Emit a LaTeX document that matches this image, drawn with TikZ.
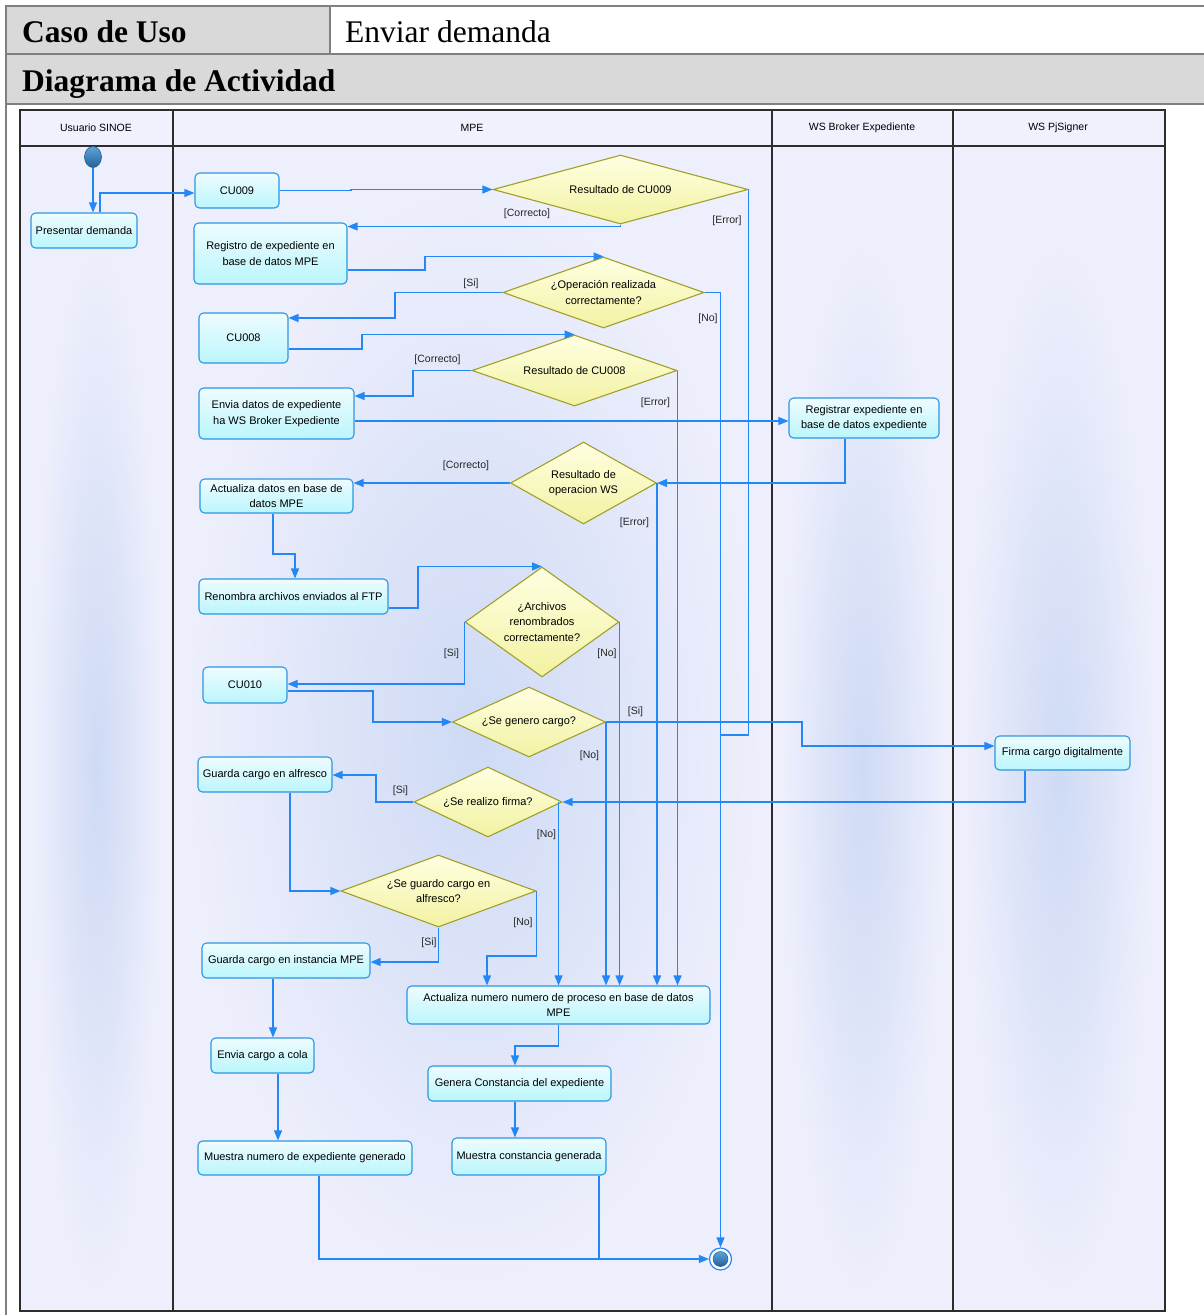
\documentclass[tikz,border=0pt]{standalone}
\usepackage{fontspec}
\setmainfont{Liberation Serif}
\newfontfamily\diagsans{Liberation Sans}
\usetikzlibrary{shapes.geometric,arrows.meta}

% palette
\definecolor{hdrgray}{RGB}{217,217,217}
\definecolor{hdrline}{RGB}{128,128,128}
\definecolor{frameline}{RGB}{45,45,45}
\definecolor{lanebg}{RGB}{238,239,252}
\definecolor{lanehead}{RGB}{240,241,253}
\definecolor{laneglow}{RGB}{206,218,245}
\definecolor{actborder}{RGB}{45,150,225}
\definecolor{acttop}{RGB}{238,252,255}
\definecolor{actbot}{RGB}{186,246,252}
\definecolor{decborder}{RGB}{160,160,40}
\definecolor{dectop}{RGB}{255,255,226}
\definecolor{decbot}{RGB}{242,242,162}
\definecolor{flowc}{RGB}{35,135,245}
\definecolor{balllight}{RGB}{95,165,215}
\definecolor{balldark}{RGB}{35,95,150}

\begin{document}
\begin{tikzpicture}[x=1pt,y=-1pt,
  hdrrule/.style={draw=hdrline, line width=2pt},
  frame/.style={draw=frameline, line width=1.1pt},
  act/.style={draw=actborder, line width=1.1pt, rounded corners=4.5pt,
    top color=acttop, bottom color=actbot, text=black, align=center,
    inner sep=0pt, font=\diagsans\fontsize{11}{15.5}\selectfont},
  dec/.style={diamond, draw=decborder, line width=1.1pt,
    top color=dectop, bottom color=decbot, text=black, align=center,
    inner sep=0pt, font=\diagsans\fontsize{11}{15.5}\selectfont},
  flow/.style={draw=flowc, line width=1.2pt, -{Triangle[length=10pt,width=8pt]}},
  link/.style={draw=flowc, line width=1.2pt},
  guard/.style={font=\diagsans\fontsize{10.5}{12}\selectfont, text=black!85, inner sep=0pt},
  lanetitle/.style={font=\diagsans\fontsize{10.5}{12}\selectfont, inner sep=0pt},
  htext/.style={anchor=base west, inner sep=0pt, font=\fontsize{31.5}{36}\selectfont}
]
\useasboundingbox (0,0) rectangle (1204,1315);
\fill[white] (0,0) rectangle (1204,1315);

% ---- form header ----
\fill[hdrgray] (6,6) rectangle (330,54);
\fill[hdrgray] (6,54) rectangle (1204,104);
\draw[hdrrule] (5,6) -- (1204,6);
\draw[hdrrule] (6,54) -- (1204,54);
\draw[hdrrule] (6,104) -- (1204,104);
\draw[hdrrule] (6,5) -- (6,1315);
\draw[hdrrule] (330,6) -- (330,54);
\node[htext, font=\bfseries\fontsize{31.5}{36}\selectfont] (casolbl) at (22,42) {Caso de Uso};
\node[htext] (casoval) at (345,42) {Enviar demanda};
\node[htext, font=\bfseries\fontsize{31.5}{36}\selectfont] (diaglbl) at (22,91) {Diagrama de Actividad};

% ---- swimlanes ----
\fill[lanebg] (20,110) rectangle (1165,1311);
\shade[inner color=laneglow, outer color=lanebg] (32,240) rectangle (162,1300);
\shade[inner color=laneglow, outer color=lanebg] (185,180) rectangle (762,1290);
\shade[inner color=laneglow, outer color=lanebg] (782,240) rectangle (944,1300);
\shade[inner color=laneglow, outer color=lanebg] (964,240) rectangle (1155,1300);
\fill[lanehead] (20,110) rectangle (1165,146);
\draw[frame] (20,110) rectangle (1165,1311);
\draw[frame] (20,146) -- (1165,146);
\foreach \lx in {173,772,953} \draw[frame] (\lx,110) -- (\lx,1311);
\node[lanetitle] (lane1) at (96,128) {Usuario SINOE};
\node[lanetitle] (lane2) at (472,128) {MPE};
\node[lanetitle] (lane3) at (862,128) {WS Broker Expediente};
\node[lanetitle] (lane4) at (1058,128) {WS PjSigner};

% ---- start / end ----
\node[ellipse, minimum width=17pt, minimum height=21pt, inner sep=0pt,
  draw=balldark, line width=0.6pt, top color=balllight, bottom color=balldark] (start) at (93,157) {};
\node[circle, minimum size=22pt, inner sep=0pt, draw=flowc, line width=1.2pt, fill=white] (fin) at (720.5,1259) {};
\node[circle, minimum size=15pt, inner sep=0pt, draw=balldark, line width=0.5pt,
  top color=balllight, bottom color=balldark] (finin) at (fin.center) {};

% ---- actions ----
\node[act, minimum width=106pt, minimum height=35pt] (pres) at (84,230.5) {Presentar demanda};
\node[act, minimum width=84pt, minimum height=35pt] (cu9) at (237,190.5) {CU009};
\node[act, minimum width=153pt, minimum height=61pt] (reg) at (270.5,253.5) {Registro de expediente en\\base de datos MPE};
\node[act, minimum width=89pt, minimum height=50pt] (cu8) at (243.5,338) {CU008};
\node[act, minimum width=155pt, minimum height=51pt] (envia) at (276.5,413.5) {Envia datos de expediente\\ha WS Broker Expediente};
\node[act, minimum width=150pt, minimum height=40pt] (regws) at (864,418) {Registrar expediente en\\base de datos expediente};
\node[act, minimum width=153pt, minimum height=34pt] (actdat) at (276.5,496) {Actualiza datos en base de\\datos MPE};
\node[act, minimum width=189pt, minimum height=35pt] (renom) at (293.5,596.5) {Renombra archivos enviados al FTP};
\node[act, minimum width=84pt, minimum height=36pt] (cu10) at (245,685) {CU010};
\node[act, minimum width=135pt, minimum height=34pt] (firma) at (1062.5,753) {Firma cargo digitalmente};
\node[act, minimum width=134pt, minimum height=35pt] (galf) at (265,774.5) {Guarda cargo en alfresco};
\node[act, minimum width=168pt, minimum height=35pt] (ginst) at (286,960.5) {Guarda cargo en instancia MPE};
\node[act, minimum width=303pt, minimum height=38pt] (actnum) at (558.5,1005) {Actualiza numero numero de proceso en base de datos\\MPE};
\node[act, minimum width=183pt, minimum height=35pt] (genc) at (519.5,1083.5) {Genera Constancia del expediente};
\node[act, minimum width=154pt, minimum height=37pt] (mconst) at (529,1156.5) {Muestra constancia generada};
\node[act, minimum width=103pt, minimum height=35pt] (cola) at (262.5,1055.5) {Envia cargo a cola};
\node[act, minimum width=214pt, minimum height=34pt] (mnum) at (305,1158) {Muestra numero de expediente generado};

% ---- decisions ----
\node[dec, aspect=3.7, minimum width=255pt, minimum height=69pt] (d1) at (620.5,189.5) {Resultado de CU009};
\node[dec, aspect=2.8, minimum width=201pt, minimum height=71pt] (d2) at (603.5,292.5) {¿Operación realizada\\correctamente?};
\node[dec, aspect=2.9, minimum width=205pt, minimum height=71pt] (d3) at (574.5,370.5) {Resultado de CU008};
\node[dec, aspect=1.8, minimum width=146pt, minimum height=82pt] (d4) at (583.5,483) {Resultado de\\operacion WS};
\node[dec, aspect=1.4, minimum width=154pt, minimum height=110pt] (d5) at (542,622) {¿Archivos\\renombrados\\correctamente?};
\node[dec, aspect=2.2, minimum width=153pt, minimum height=70pt] (d6) at (529,722) {¿Se genero cargo?};
\node[dec, aspect=2.1, minimum width=148pt, minimum height=70pt] (d7) at (488,802) {¿Se realizo firma?};
\node[dec, aspect=2.7, minimum width=195pt, minimum height=72pt] (d8) at (438.5,891) {¿Se guardo cargo en\\alfresco?};

% ---- control flow ----
\coordinate (jn1) at (fin.north |- 0,735);
\coordinate (jn2) at (fin.west -| 599,0);

\draw[flow] (start) -- (pres.north -| start);
\draw[flow] (pres.north -| 100,0) |- (cu9.west |- 0,193);
\draw[flow] (cu9.east) -- (351,190.5) |- (d1.west);
\draw[flow] (d1.south) |- (reg.east |- 0,226.5);
\draw[link] (d1.east) |- (jn1);
\draw[flow] (reg.east |- 0,270) -- (425,270) |- (d2.north);
\draw[flow] (d2.west) -| (395,318) -- (cu8.east |- 0,318);
\draw[flow] (d2.east) -| (fin.north);
\draw[flow] (cu8.east |- 0,349) -- (362,349) |- (d3.north);
\draw[flow] (d3.west) -| (413,396) -- (envia.east |- 0,396);
\draw[flow] (d3.east) -- (d3.east |- actnum.north);
\draw[flow] (envia.east |- 0,421) -- (regws.west |- 0,421);
\draw[flow] (regws.south -| 845,0) |- (d4.east);
\draw[flow] (d4.west) -- (actdat.east |- d4.west);
\draw[flow] (d4.east) -- (d4.east |- actnum.north);
\draw[flow] (actdat.south -| 273,0) |- (295,554) -- (renom.north -| 295,0);
\draw[flow] (renom.east |- 0,608) -- (418,608) |- (d5.north);
\draw[flow] (d5.west) |- (cu10.east |- 0,684);
\draw[flow] (d5.east) -- (d5.east |- actnum.north);
\draw[flow] (cu10.east |- 0,691) -- (373,691) |- (d6.west);
\draw[flow] (d6.east) -- (802,722) |- (firma.west |- 0,746);
\draw[flow] (d6.east) -- (d6.east |- actnum.north);
\draw[flow] (firma.south -| 1025,0) |- (d7.east);
\draw[flow] (d7.west) -| (376,775) -- (galf.east |- 0,775);
\draw[flow] ([xshift=-4pt]d7.east) -- ([xshift=-4pt]d7.east |- actnum.north);
\draw[flow] (galf.south -| 290,0) |- (d8.west);
\draw[flow] (d8.south) |- (ginst.east |- 0,962);
\draw[flow] (d8.east) -- (d8.east |- 0,956) -| (actnum.north -| 487,0);
\draw[flow] (ginst.south -| 273,0) -- (cola.north -| 273,0);
\draw[flow] (cola.south -| 278,0) -- (mnum.north -| 278,0);
\draw[flow] (actnum.south) |- (515,1046) -- (genc.north -| 515,0);
\draw[flow] (genc.south -| 515,0) -- (mconst.north -| 515,0);
\draw[flow] (mnum.south -| 319,0) |- (fin.west);
\draw[link] (mconst.south -| 599,0) -- (jn2);

% ---- guards ----
\node[guard] (g1) at (527,214) {[Correcto]};
\node[guard] (g2) at (727,221) {[Error]};
\node[guard] (g3) at (471,284) {[Si]};
\node[guard] (g4) at (708,319) {[No]};
\node[guard] (g5) at (437.5,360) {[Correcto]};
\node[guard] (g6) at (655.5,403) {[Error]};
\node[guard] (g7) at (466,466) {[Correcto]};
\node[guard] (g8) at (634.5,523) {[Error]};
\node[guard] (g9) at (451.5,654) {[Si]};
\node[guard] (g10) at (607,654) {[No]};
\node[guard] (g11) at (635.5,712) {[Si]};
\node[guard] (g12) at (589.5,756) {[No]};
\node[guard] (g13) at (400.5,791) {[Si]};
\node[guard] (g14) at (546.5,835) {[No]};
\node[guard] (g15) at (523,923) {[No]};
\node[guard] (g16) at (429,943) {[Si]};
\end{tikzpicture}
\end{document}
